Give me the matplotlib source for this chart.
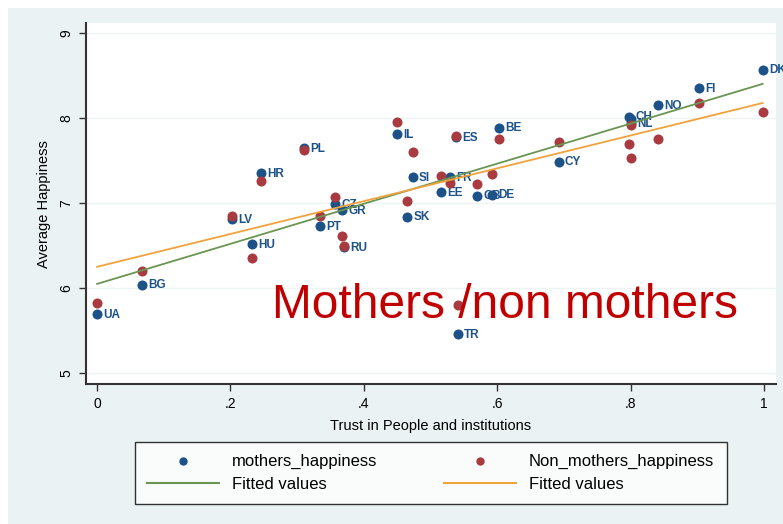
#!/usr/bin/env python

import numpy as np
import matplotlib.pyplot as plt
from matplotlib.patches import Rectangle
from matplotlib.lines import Line2D

countries = ["UA","BG","HU","LV","HR","PL","PT","CZ","GR","RU",
             "IL","SI","SK","EE","FR","ES","GB","DE","BE","CY",
             "CH","SE","NL","NO","FI","DK","TR"]
trust = [0.000,0.067,0.232,0.203,0.246,0.310,0.334,0.357,0.367,0.370,
         0.450,0.473,0.465,0.516,0.529,0.538,0.570,0.592,0.603,0.692,
         0.798,0.800,0.800,0.841,0.903,0.998,0.541]
mothers = [5.69,6.04,6.52,6.81,7.35,7.65,6.73,6.99,6.92,6.48,
           7.81,7.31,6.84,7.13,7.31,7.78,7.09,7.10,7.89,7.49,
           8.02,7.99,7.94,8.15,8.35,8.57,5.46]
non_mothers = [5.82,6.20,6.35,6.85,7.26,7.63,6.85,7.07,6.61,6.49,
               7.96,7.60,7.02,7.32,7.24,7.79,7.22,7.34,7.75,7.72,
               7.70,7.53,7.92,7.75,8.18,8.07,5.80]
# labels hidden under other markers in the original
hidden_labels = ["SE"]
xticks = [0,0.2,0.4,0.6,0.8,1.0]
xticklabels = ["0",".2",".4",".6",".8","1"]
yticks = [5,6,7,8,9]

def main():
    plt.rcParams["font.family"] = ["Liberation Sans","DejaVu Sans"]
    navy = "#1c5288"
    maroon = "#a83a40"
    green = "#6b9552"
    orange = "#f0a23c"

    fig = plt.figure(figsize=(7.83,5.24),dpi=100,facecolor="white")
    fig.patches.append(Rectangle((8/783,0),1,1-8/524,transform=fig.transFigure,
        facecolor="#eaf2f3",edgecolor="none",zorder=-10))
    ax = fig.add_axes([0.110,0.267,0.881,0.689])
    ax.set_facecolor("white")

    x = np.array(trust)
    ym = np.array(mothers)
    yn = np.array(non_mothers)

    ax.scatter(x,ym,s=52,color=navy,zorder=3,linewidths=0)
    for c,xi,yi in zip(countries,x,ym):
        if c in hidden_labels:
            continue
        ax.annotate(c,(xi,yi),xytext=(4.5,-0.5),textcoords="offset points",
            va="center",ha="left",fontsize=8.5,fontweight="bold",color=navy,zorder=3)
    ax.scatter(x,yn,s=52,color=maroon,zorder=4,linewidths=0)

    xs = np.array([x.min(),x.max()])
    pm = np.polyfit(x,ym,1)
    pn = np.polyfit(x,yn,1)
    ax.plot(xs,np.polyval(pm,xs),color=green,lw=1.3,zorder=5)
    ax.plot(xs,np.polyval(pn,xs),color=orange,lw=1.3,zorder=5)

    ax.text(0.262,5.65,"Mothers /non mothers",color="#c00000",fontsize=34.5,zorder=6)

    ax.set_xlim(-0.0165,1.018)
    ax.set_ylim(4.87,9.12)
    ax.set_xticks(xticks)
    ax.set_xticklabels(xticklabels)
    ax.set_yticks(yticks)
    ax.set_yticklabels([str(v) for v in yticks],rotation=90,va="center")
    ax.tick_params(direction="out",length=5,width=1,color="#333333",labelsize=10,pad=4)
    ax.grid(axis="y",color="#eef3f4",lw=1)
    ax.set_axisbelow(True)
    for s in ["top","right"]:
        ax.spines[s].set_visible(False)
    for s in ["left","bottom"]:
        ax.spines[s].set_color("#333333")
        ax.spines[s].set_linewidth(1.5)
    ax.set_xlabel("Trust in People and institutions",fontsize=10.5,labelpad=6)
    ax.set_ylabel("Average Happiness",fontsize=10.5,labelpad=6)

    handles = [Line2D([],[],ls="None",marker="o",ms=5,color=navy),
               Line2D([],[],color=green,lw=1.5),
               Line2D([],[],ls="None",marker="o",ms=5,color=maroon),
               Line2D([],[],color=orange,lw=1.5)]
    labels = ["mothers_happiness","Fitted values","Non_mothers_happiness","Fitted values"]
    leg = fig.legend(handles,labels,ncol=2,loc="center",
        bbox_to_anchor=(0.55,0.097),fontsize=12,handlelength=4.3,
        fancybox=False,frameon=True,borderaxespad=0,labelspacing=0.45,
        borderpad=0.75,handletextpad=0.8,columnspacing=4.0)
    leg.get_frame().set_edgecolor("black")
    leg.get_frame().set_linewidth(1)

    fig.savefig("out.png",dpi=100,facecolor=fig.get_facecolor())
    plt.close()

if __name__ == "__main__":
    main()
